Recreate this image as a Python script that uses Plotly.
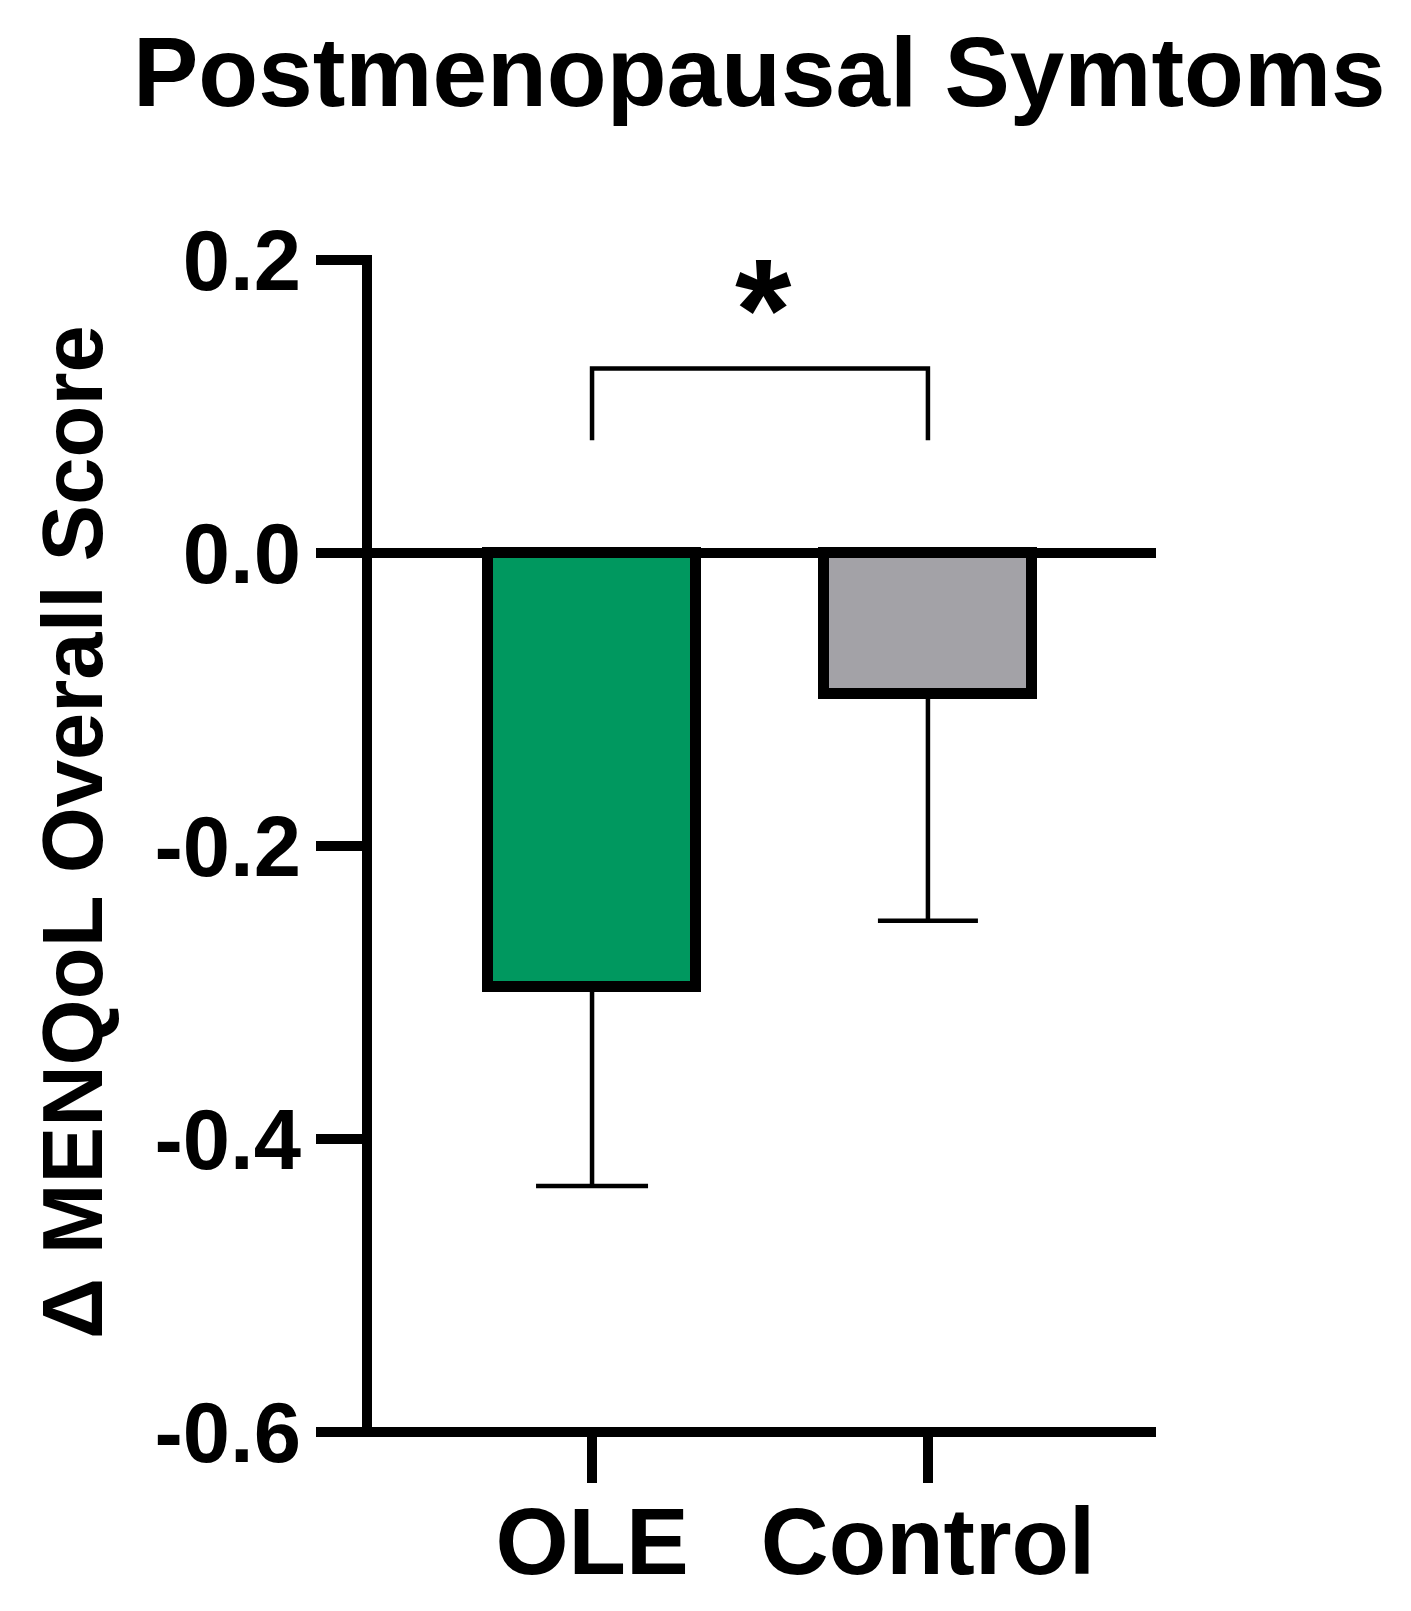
import plotly.graph_objects as go

# ---- data ----
categories = ["OLE", "Control"]
means = [-0.296, -0.096]
sem_down = [0.136, 0.155]
bar_colors = ["#00985F", "#A3A2A7"]
y_tickvals = [0.2, 0.0, -0.2, -0.4, -0.6]
y_ticktext = ["0.2", "0.0", "-0.2", "-0.4", "-0.6"]
sig_label = "*"

FONT = "Liberation Sans, Arial, sans-serif"
OFF = 8  # default page body margin
W, H = 1411 - OFF, 1611 - OFF
# plot area in screen pixels
PX0, PX1, PY0, PY1 = 367, 1156, 260, 1432
L, T = PX0 - OFF, PY0 - OFF
R, B = W - (PX1 - OFF), H - (PY1 - OFF)
pw = W - L - R
ph = H - T - B

fig = go.Figure()
cap_half = [56, 50]
for i, cat in enumerate(categories):
    fig.add_trace(go.Bar(
        x=[i], y=[means[i]], width=0.62,
        marker=dict(color=bar_colors[i], line=dict(color="black", width=11)),
        error_y=dict(type="data", symmetric=False, array=[0], arrayminus=[sem_down[i]],
                     color="black", thickness=4.5, width=cap_half[i]),
        showlegend=False, name=cat,
    ))

# significance bracket
br_top, br_bot = 0.126, 0.077
fig.add_trace(go.Scatter(
    x=[0, 0, 1, 1], y=[br_bot, br_top, br_top, br_bot], mode="lines",
    line=dict(color="black", width=4.5), showlegend=False, hoverinfo="skip",
))

fig.update_layout(
    width=W, height=H,
    margin=dict(l=L, r=R, t=T, b=B, pad=0, autoexpand=False),
    plot_bgcolor="white", paper_bgcolor="white",
    font=dict(family=FONT, color="black"),
    xaxis=dict(
        range=[-0.67, 1.679], tickvals=[0, 1], ticktext=categories,
        showline=False,
        ticks="outside", ticklen=50, tickwidth=10, tickcolor="black",
        tickfont=dict(size=94, family=FONT, weight="bold"),
        ticklabelstandoff=-22,
        showgrid=False, zeroline=False, fixedrange=True, automargin=False,
    ),
    yaxis=dict(
        range=[-0.6, 0.2], tickvals=y_tickvals, ticktext=y_ticktext,
        showline=False,
        ticks="outside", ticklen=50, tickwidth=10, tickcolor="black",
        tickfont=dict(size=85, family=FONT, weight="bold"),
        ticklabelstandoff=-2,
        showgrid=False, zeroline=True, zerolinewidth=10, zerolinecolor="black",
        automargin=False,
    ),
    bargap=0,
)

# axis spines drawn exactly on the plot-area edges
ext_y = 5 / ph
ext_x = 5 / pw
fig.add_shape(type="line", xref="paper", yref="paper", x0=0, x1=0,
              y0=-ext_y, y1=1 + ext_y, line=dict(color="black", width=10))
fig.add_shape(type="line", xref="paper", yref="paper", x0=-ext_x, x1=1,
              y0=0, y1=0, line=dict(color="black", width=10))

def px_x(p):
    return (p - OFF - L) / pw
def px_y(p):
    return (H - B - (p - OFF)) / ph

fig.add_annotation(
    x=px_x(759.5), y=px_y(72), xref="paper", yref="paper",
    text="Postmenopausal Symtoms", showarrow=False,
    xanchor="center", yanchor="middle",
    font=dict(size=98, family=FONT, weight="bold", color="black"),
)
fig.add_annotation(
    x=px_x(72), y=px_y(832), xref="paper", yref="paper",
    text="Δ MENQoL Overall Score", showarrow=False, textangle=-90,
    xanchor="center", yanchor="middle",
    font=dict(size=85, family=FONT, weight="bold", color="black"),
)
fig.add_annotation(
    x=0.51, y=0.166, xref="x", yref="y",
    text=sig_label, showarrow=False, xanchor="center", yanchor="middle",
    font=dict(size=145, family=FONT, weight="bold", color="black"),
)

fig.write_html("out.html")
